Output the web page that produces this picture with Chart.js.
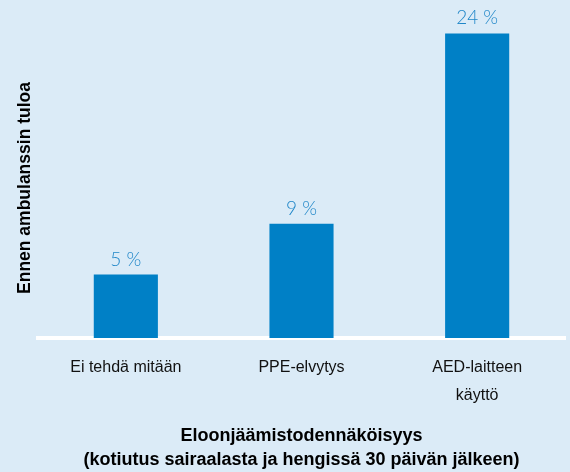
<!DOCTYPE html>
<html>
<head>
<meta charset="utf-8">
<script src="https://cdn.jsdelivr.net/npm/chart.js@4"></script>
<style>
    html, body { margin: 0; padding: 0; background: #dbebf7; }
    canvas { display: block; }
</style>
</head>
<body>
<canvas id="chart" width="570" height="472"></canvas>
<script>
// bar categories, multi-line ones as arrays
var categories = ["Ei tehdä mitään", "PPE-elvytys", ["AED-laitteen", "käyttö"]];
var survival = [5, 9, 24];
var yMax = 26;
var yTitle = "Ennen ambulanssin tuloa";
var xTitle = ["Eloonjäämistodennäköisyys", "(kotiutus sairaalasta ja hengissä 30 päivän jälkeen)"];

// value labels above each bar
var valueLabels = {
    id: "valueLabels",
    afterDatasetsDraw: function(chart) {
        var ctx = chart.ctx;
        var meta = chart.getDatasetMeta(0);
        ctx.save();
        ctx.font = "300 19px Lato, 'Open Sans', sans-serif";
        ctx.fillStyle = "#1f86c8";
        ctx.textAlign = "center";
        ctx.textBaseline = "alphabetic";
        meta.data.forEach(function(bar, i) {
            ctx.fillText(survival[i] + " %", bar.x, bar.y - 9);
        });
        ctx.restore();
    }
};

// rotated title on the left side
var sideTitle = {
    id: "sideTitle",
    afterDraw: function(chart) {
        var ctx = chart.ctx;
        ctx.save();
        ctx.translate(25, 188);
        ctx.rotate(-Math.PI / 2);
        ctx.font = "bold 17.5px 'Liberation Sans', Arial, sans-serif";
        ctx.fillStyle = "#000";
        ctx.textAlign = "center";
        ctx.textBaseline = "middle";
        ctx.fillText(yTitle, 0, 0);
        ctx.restore();
    }
};

function drawChart() {
    var ctx = document.getElementById("chart").getContext("2d");
    var myChart = new Chart(ctx, {
        type: "bar",
        data: {
            labels: categories,
            datasets: [{
                data: survival,
                backgroundColor: "#0080c6",
                borderWidth: 0,
                categoryPercentage: 1,
                barPercentage: 0.365
            }]
        },
        options: {
            responsive: false,
            animation: false,
            layout: { padding: { left: 38, right: 5, top: 8, bottom: 0 } },
            plugins: {
                legend: { display: false },
                tooltip: { enabled: false }
            },
            scales: {
                x: {
                    z: 1,
                    grid: { display: false, drawTicks: false },
                    border: { display: true, color: "#ffffff", width: 4 },
                    ticks: {
                        padding: 16,
                        color: "#111111",
                        font: { family: "'Liberation Sans', Arial, sans-serif", size: 16, lineHeight: "28px" }
                    },
                    title: {
                        display: true,
                        text: xTitle,
                        color: "#000",
                        padding: { top: -2, bottom: 0 },
                        font: { family: "'Liberation Sans', Arial, sans-serif", size: 18, weight: "bold", lineHeight: "24px" }
                    }
                },
                y: {
                    display: false,
                    min: 0,
                    max: yMax
                }
            }
        },
        plugins: [valueLabels, sideTitle]
    });
}

drawChart();
</script>
</body>
</html>
